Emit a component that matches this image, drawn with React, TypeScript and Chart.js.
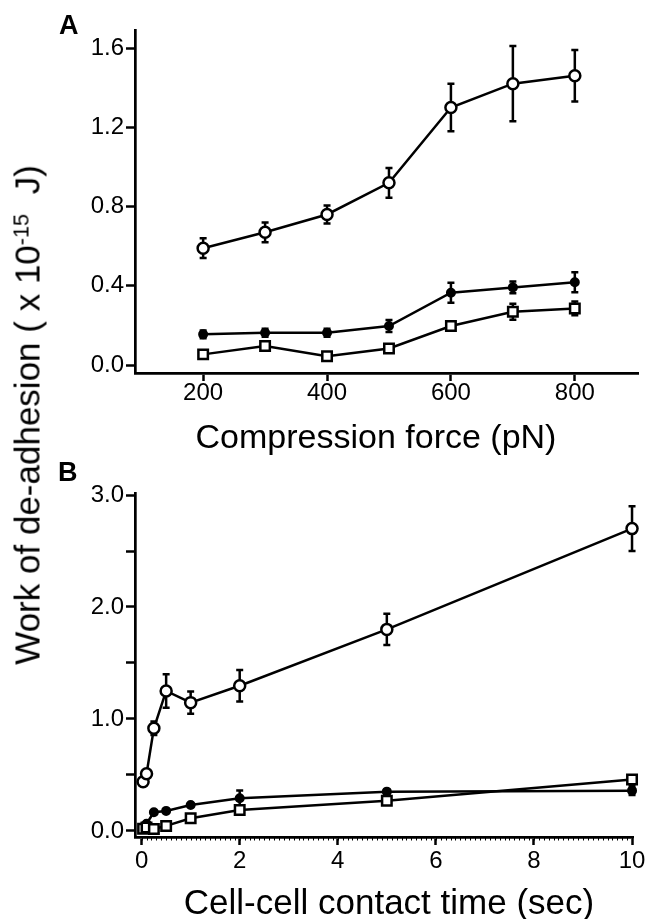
import React, { useEffect, useRef } from "react";
import { Chart, registerables } from "chart.js";

Chart.register(...registerables);

// ---------- Data: panel A (compression force) ----------
const forceA = [200, 300, 400, 500, 600, 700, 800];
const openA = [0.59, 0.67, 0.76, 0.92, 1.30, 1.42, 1.46];
const openAErr = [0.05, 0.05, 0.045, 0.075, 0.12, 0.19, 0.13];
const filledA = [0.155, 0.163, 0.163, 0.197, 0.365, 0.392, 0.418];
const filledAErr = [0.02, 0.02, 0.02, 0.03, 0.05, 0.03, 0.05];
const squareA = [0.054, 0.096, 0.045, 0.084, 0.197, 0.269, 0.286];
const squareAErr = [0.015, 0.015, 0.015, 0.015, 0.02, 0.04, 0.035];
const xTicksA = [200, 400, 600, 800];
const yTicksA = [0, 0.4, 0.8, 1.2, 1.6];

// ---------- Data: panel B (contact time) ----------
const timeB = [0.03, 0.1, 0.25, 0.5, 1, 2, 5, 10];
const openB = [0.44, 0.51, 0.917, 1.25, 1.146, 1.297, 1.8, 2.7];
const openBErr = [0.03, 0.03, 0.06, 0.15, 0.1, 0.14, 0.14, 0.2];
const filledB = [0.035, 0.065, 0.167, 0.179, 0.232, 0.292, 0.351, 0.36];
const filledBErr = [0.01, 0.01, 0.015, 0.015, 0.015, 0.07, 0.02, 0.04];
const squareB = [0.02, 0.03, 0.018, 0.045, 0.113, 0.188, 0.27, 0.46];
const squareBErr = [0.01, 0.01, 0.01, 0.01, 0.015, 0.02, 0.02, 0.02];
const xTicksB = [0, 2, 4, 6, 8, 10];
const yTicksB = [0, 0.5, 1, 1.5, 2, 2.5, 3];

const FONT = '"Liberation Sans", Arial, Helvetica, sans-serif';

const errorBarPlugin = {
  id: "errorBars",
  beforeDatasetsDraw(chart: any) {
    const ctx = chart.ctx;
    const yScale = chart.scales.y;
    chart.data.datasets.forEach((ds: any, i: number) => {
      const errs = ds.errors;
      if (!errs) return;
      const meta = chart.getDatasetMeta(i);
      ctx.save();
      ctx.strokeStyle = "#000";
      ctx.lineWidth = 2.5;
      meta.data.forEach((pt: any, j: number) => {
        const e = errs[j];
        if (!e) return;
        const v = ds.data[j].y;
        const x = pt.x;
        const yt = yScale.getPixelForValue(v + e);
        const yb = yScale.getPixelForValue(v - e);
        ctx.beginPath();
        ctx.moveTo(x, yt);
        ctx.lineTo(x, yb);
        ctx.moveTo(x - 3.5, yt);
        ctx.lineTo(x + 3.5, yt);
        ctx.moveTo(x - 3.5, yb);
        ctx.lineTo(x + 3.5, yb);
        ctx.stroke();
      });
      ctx.restore();
    });
  },
};

const minorTickPlugin = {
  id: "minorTicks",
  afterDraw(chart: any) {
    const opts = chart.options.plugins.minorTicks;
    if (!opts || !opts.step) return;
    const ctx = chart.ctx;
    const xs = chart.scales.x;
    const yb = chart.chartArea.bottom;
    ctx.save();
    ctx.strokeStyle = "#000";
    ctx.lineWidth = 1;
    ctx.beginPath();
    for (let v = 0; v <= xs.max + 1e-9; v += opts.step) {
      const px = Math.round(xs.getPixelForValue(v)) + 0.5;
      ctx.moveTo(px, yb + 1);
      ctx.lineTo(px, yb + 3.5);
    }
    ctx.stroke();
    ctx.restore();
  },
};

function makeDatasets(xs: number[], open: number[], openErr: number[], sq: number[], sqErr: number[], filled: number[], filledErr: number[]) {
  const pts = (ys: number[]) => xs.map((x, i) => ({ x, y: ys[i] }));
  const common = {
    borderColor: "#000",
    borderWidth: 2.5,
    pointBorderColor: "#000",
    pointBorderWidth: 2.5,
    clip: false as any,
    tension: 0,
  };
  return [
    {
      ...common,
      label: "open circles",
      data: pts(open),
      errors: openErr,
      pointStyle: "circle",
      pointRadius: 5.5,
      pointBackgroundColor: "#fff",
    },
    {
      ...common,
      label: "open squares",
      data: pts(sq),
      errors: sqErr,
      pointStyle: "rect",
      pointRadius: 6.7,
      pointBackgroundColor: "#fff",
    },
    {
      ...common,
      label: "filled circles",
      data: pts(filled),
      errors: filledErr,
      pointStyle: "circle",
      pointRadius: 4,
      pointBorderWidth: 2,
      pointBackgroundColor: "#000",
    },
  ];
}

function axisCommon(tickLen: number, pad: number) {
  return {
    grid: {
      drawOnChartArea: false,
      drawTicks: true,
      tickLength: tickLen,
      tickColor: "#000",
      tickWidth: 2.5,
      color: "#000",
    },
    border: { display: true, color: "#000", width: 2.7 },
    ticks: {
      color: "#000",
      padding: pad,
      font: { family: FONT, size: 24, lineHeight: 1 },
    },
  };
}

function buildConfig(panel: "A" | "B"): any {
  const isA = panel === "A";
  const xTicks = isA ? xTicksA : xTicksB;
  const yTicks = isA ? yTicksA : yTicksB;
  const datasets = isA
    ? makeDatasets(forceA, openA, openAErr, squareA, squareAErr, filledA, filledAErr)
    : makeDatasets(timeB, openB, openBErr, squareB, squareBErr, filledB, filledBErr);
  const xc = axisCommon(8, isA ? 0 : 4.6);
  const yc = axisCommon(9, 2);
  return {
    type: "line",
    data: { datasets },
    plugins: [errorBarPlugin, minorTickPlugin],
    options: {
      responsive: false,
      animation: false,
      devicePixelRatio: 1,
      layout: { padding: { top: isA ? 30 : 33, right: 12, left: 0, bottom: 0 } },
      plugins: {
        legend: { display: false },
        tooltip: { enabled: false },
        title: { display: false },
        minorTicks: { step: isA ? 0 : 0.1 },
      },
      scales: {
        x: {
          type: "linear",
          position: "bottom",
          min: isA ? 90 : -0.135,
          max: isA ? 902 : 10.02,
          ...xc,
          ticks: {
            ...xc.ticks,
            maxRotation: 0,
            callback: (v: number) => String(v),
          },
          afterBuildTicks: (s: any) => {
            s.ticks = xTicks.map((v) => ({ value: v }));
          },
          afterFit: (s: any) => {
            s.height = isA ? 87 : 82;
          },
        },
        y: {
          type: "linear",
          position: "left",
          min: isA ? -0.04 : -0.054,
          max: isA ? 1.691 : 3.018,
          ...yc,
          ticks: {
            ...yc.ticks,
            callback: (v: number) =>
              isA ? v.toFixed(1) : Math.abs(v - Math.round(v)) < 1e-6 ? v.toFixed(1) : "",
          },
          afterBuildTicks: (s: any) => {
            s.ticks = yTicks.map((v) => ({ value: v }));
          },
          afterFit: (s: any) => {
            s.width = 135;
          },
        },
      },
    },
  };
}

function Panel({ panel, top, height }: { panel: "A" | "B"; top: number; height: number }) {
  const ref = useRef<HTMLCanvasElement | null>(null);
  useEffect(() => {
    if (!ref.current) return;
    const chart = new Chart(ref.current, buildConfig(panel));
    return () => chart.destroy();
  }, [panel]);
  return (
    <canvas
      ref={ref}
      width={650}
      height={height}
      style={{ position: "absolute", left: 0, top, width: 650, height }}
    />
  );
}

const textBase: React.CSSProperties = {
  position: "absolute",
  fontFamily: FONT,
  color: "#000",
  lineHeight: 1,
  whiteSpace: "pre",
};

export default function App() {
  return (
    <div
      style={{
        position: "absolute",
        left: 0,
        top: 0,
        width: 650,
        height: 919,
        background: "#fff",
        overflow: "hidden",
      }}
    >
      <Panel panel="A" top={0} height={460} />
      <Panel panel="B" top={460} height={459} />

      <div style={{ ...textBase, left: 59, top: 11.5, fontSize: 27, fontWeight: 700 }}>A</div>
      <div style={{ ...textBase, left: 58, top: 458.5, fontSize: 27, fontWeight: 700 }}>B</div>

      <div
        style={{
          ...textBase,
          left: 376,
          top: 418.6,
          fontSize: 34,
          transform: "translateX(-50%)",
        }}
      >
        Compression force (pN)
      </div>

      <div
        style={{
          ...textBase,
          left: 389,
          top: 884,
          fontSize: 35,
          transform: "translateX(-50%)",
        }}
      >
        Cell-cell contact time (sec)
      </div>

      <div
        style={{
          ...textBase,
          left: 26.5,
          top: 415,
          fontSize: 35,
          transform: "translate(-50%, -50%) rotate(-90deg)",
        }}
      >
        {"Work of de-adhesion ( x 10"}
        <sup style={{ fontSize: "0.62em", verticalAlign: "0.5em", lineHeight: 0 }}>-15</sup>
        {"  J)"}
      </div>
    </div>
  );
}
